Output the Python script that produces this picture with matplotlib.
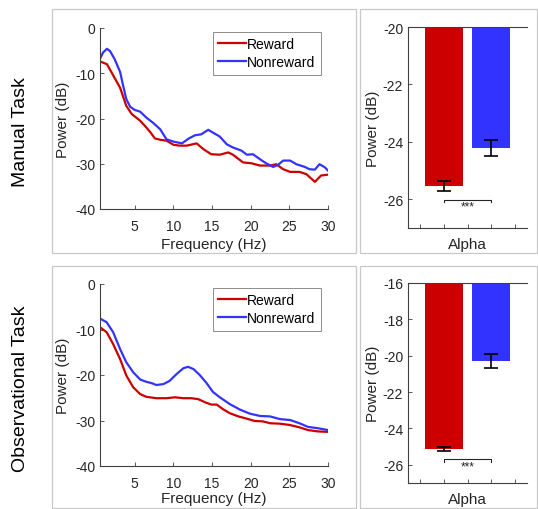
import matplotlib.pyplot as plt
from matplotlib.patches import Rectangle

plt.rcParams['font.family'] = ['Liberation Sans', 'DejaVu Sans']
plt.rcParams['axes.unicode_minus'] = False

# spectra, manual task
man_rew_f = [0.5, 1.4, 3.1, 3.9, 4.6, 5.7, 6.3, 7.0, 7.6, 8.3, 9.1, 10.0, 10.8, 11.7, 13.0,
             13.9, 14.9, 16.0, 17.1, 17.7, 19.0, 20.1, 21.2, 22.5, 23.3, 24.2, 25.1, 26.3,
             27.2, 28.3, 29.1, 30.0]
man_rew_p = [-7.4, -8.0, -13.2, -17.2, -19.0, -20.5, -21.6, -23.0, -24.4, -24.7, -24.9, -25.8,
             -26.0, -26.0, -25.5, -26.8, -27.9, -28.0, -27.5, -28.0, -29.7, -29.9, -30.4,
             -30.4, -30.1, -31.2, -31.8, -31.8, -32.3, -34.0, -32.6, -32.4]
man_non_f = [0.5, 0.9, 1.4, 1.8, 2.4, 3.1, 3.5, 3.9, 4.4, 5.0, 5.7, 6.5, 7.4, 8.3, 9.1, 10.0,
             11.1, 12.0, 12.8, 13.6, 14.5, 15.1, 16.0, 16.9, 17.7, 18.8, 19.5, 20.3, 21.2,
             22.0, 22.9, 23.5, 24.2, 25.1, 25.9, 27.0, 27.6, 28.3, 28.9, 29.6, 30.0]
man_non_p = [-6.8, -5.4, -4.6, -5.1, -6.9, -9.7, -12.8, -15.7, -17.4, -18.1, -18.5, -19.8,
             -21.0, -22.4, -24.6, -25.1, -25.5, -24.4, -23.7, -23.5, -22.5, -23.1, -24.0,
             -25.7, -26.4, -27.1, -28.0, -27.9, -29.0, -29.9, -30.7, -30.3, -29.3, -29.3,
             -30.1, -30.7, -31.2, -31.3, -30.1, -30.8, -31.5]

# spectra, observational task
obs_rew_f = [0.5, 1.36, 2.2, 3.1, 3.9, 4.8, 5.7, 6.5, 7.8, 9.1, 10.2, 11.3, 12.3, 13.2, 14.1,
             14.9, 15.6, 16.4, 17.3, 18.4, 19.5, 20.5, 21.6, 22.5, 23.8, 25.1, 26.3, 27.4,
             28.7, 30.0]
obs_rew_p = [-9.5, -10.6, -13.2, -16.5, -20.1, -22.7, -24.2, -24.8, -25.1, -25.1, -24.9, -25.1,
             -25.1, -25.3, -26.0, -26.5, -26.5, -27.5, -28.4, -29.1, -29.6, -30.1, -30.2,
             -30.6, -30.7, -31.0, -31.5, -32.1, -32.4, -32.5]
obs_non_f = [0.5, 1.36, 2.2, 3.1, 3.9, 4.8, 5.7, 6.5, 7.2, 7.8, 8.7, 9.5, 10.4, 11.3, 11.9,
             12.6, 13.4, 14.3, 15.1, 16.0, 17.3, 18.6, 19.9, 21.2, 22.5, 23.8, 25.1, 26.3,
             27.4, 28.7, 30.0]
obs_non_p = [-7.6, -8.4, -10.6, -14.3, -17.2, -19.4, -21.0, -21.5, -21.8, -22.2, -22.0, -21.3,
             -19.8, -18.5, -18.2, -18.7, -20.0, -21.8, -23.7, -24.9, -26.4, -27.6, -28.5,
             -29.0, -29.1, -29.7, -29.9, -30.6, -31.4, -31.7, -32.1]

# alpha band means and errors (reward, nonreward)
conditions = ['Reward', 'Nonreward']
man_alpha = [-25.55, -24.22]
man_alpha_err = [0.17, 0.28]
obs_alpha = [-25.13, -20.3]
obs_alpha_err = [0.1, 0.4]

RED = '#CC0000'
BLUE = '#3333FF'
AX_COL = '#404040'
W, H = 538, 510

fig = plt.figure(figsize=(W / 100, H / 100), dpi=100)


def px(x0, y0, x1, y1):
    # pixel box (top-left origin) -> figure fraction rect
    return [x0 / W, 1 - y1 / H, (x1 - x0) / W, (y1 - y0) / H]


# gray panel frames
for (x0, y0, x1, y1) in [(52, 10, 356, 254), (360, 10, 537, 254),
                         (52, 267, 356, 509), (360, 267, 537, 509)]:
    r = px(x0, y0, x1, y1)
    fig.patches.append(Rectangle((r[0], r[1]), r[2], r[3], transform=fig.transFigure,
                                 fill=False, edgecolor='#C8C8C8', linewidth=0.9))


def style(ax, top=False):
    for s in ['top', 'right']:
        ax.spines[s].set_visible(False)
    if top:
        ax.spines['top'].set_visible(True)
    for s in ax.spines.values():
        s.set_color(AX_COL)
        s.set_linewidth(0.8)
    ax.tick_params(direction='in', length=3, width=0.6, color=AX_COL,
                   labelcolor='#262626', labelsize=10)


def spectrum(rect, rf, rp, nf, np_, xlab_y):
    ax = fig.add_axes(rect)
    ax.plot(rf, rp, color=RED, lw=1.6, label='Reward')
    ax.plot(nf, np_, color=BLUE, lw=1.6, label='Nonreward')
    ax.set_xlim(0.5, 30)
    ax.set_ylim(-40, 0)
    ax.set_xticks([5, 10, 15, 20, 25, 30])
    ax.set_yticks([-40, -30, -20, -10, 0])
    style(ax)
    ax.tick_params(axis='x', pad=7)
    ax.set_xlabel('Frequency (Hz)', fontsize=11, color='#262626')
    ax.set_ylabel('Power (dB)', fontsize=11, color='#262626')
    ax.xaxis.set_label_coords(0.5, xlab_y)
    ax.yaxis.set_label_coords(-0.13, 0.5)
    leg = ax.legend(loc='upper right', fontsize=10, handlelength=2.0, handletextpad=0.1,
                    borderpad=0.4, labelspacing=0.28, fancybox=False,
                    bbox_to_anchor=(0.97, 0.98), borderaxespad=0)
    leg.get_frame().set_edgecolor('#707070')
    leg.get_frame().set_linewidth(0.7)
    return ax


def alpha_bars(rect, vals, errs, ylim, yticks):
    ax = fig.add_axes(rect)
    xs = [0.8, 1.2]
    ax.bar(xs, vals, width=0.32, color=[RED, BLUE])
    ax.errorbar(xs, vals, yerr=errs, fmt='none', ecolor='black', elinewidth=1.2,
                capsize=5, capthick=1.2)
    ax.set_xlim(0.5, 1.5)
    ax.set_ylim(*ylim)
    ax.set_xticks([0.6, 0.8, 1.0, 1.2, 1.4])
    ax.set_xticklabels([])
    ax.set_yticks(yticks)
    style(ax, top=True)
    # significance bracket
    yb = min(v - e for v, e in zip(vals, errs)) - 0.3 * (ylim[1] - ylim[0]) / 7
    d = 0.012 * (ylim[1] - ylim[0])
    ax.plot([xs[0], xs[0], xs[1], xs[1]], [yb - d, yb, yb, yb - d], color='#262626', lw=0.8)
    ax.text(1.0, yb - d * 0.3, '***', ha='center', va='top', fontsize=8.5, color='#262626')
    ax.set_xlabel('Alpha', fontsize=11, color='#262626')
    ax.set_ylabel('Power (dB)', fontsize=11, color='#262626')
    ax.xaxis.set_label_coords(0.5, -0.045)
    ax.yaxis.set_label_coords(-0.235, 0.5)
    return ax


spectrum(px(100, 29, 328, 210), man_rew_f, man_rew_p, man_non_f, man_non_p, -0.155)
spectrum(px(100, 285, 328, 467), obs_rew_f, obs_rew_p, obs_non_f, obs_non_p, -0.14)
alpha_bars(px(408, 28, 527, 229), man_alpha, man_alpha_err, (-27, -20), [-26, -24, -22, -20])
alpha_bars(px(408, 284, 527, 484), obs_alpha, obs_alpha_err, (-27, -16),
           [-26, -24, -22, -20, -18, -16])

fig.text(21 / W, 1 - 132 / H, 'Manual Task', rotation=90, ha='center', va='center',
         fontsize=14)
fig.text(21 / W, 1 - 389 / H, 'Observational Task', rotation=90, ha='center', va='center',
         fontsize=14)

fig.savefig('out.png', dpi=100)
